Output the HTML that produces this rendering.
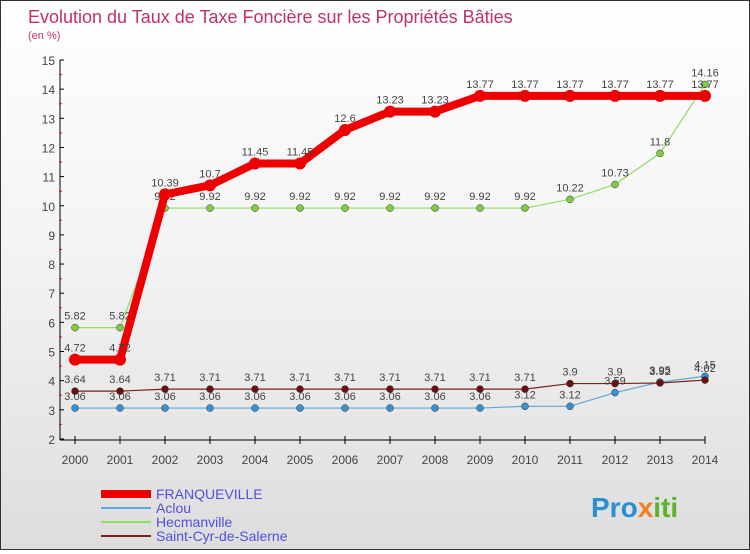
<!DOCTYPE html>
<html><head><meta charset="utf-8"><style>
body{margin:0;width:750px;height:550px;overflow:hidden;font-family:"Liberation Sans",sans-serif}
#wrap{position:relative;width:748px;height:548px;border:1px solid #333;background:linear-gradient(180deg,#fff 0%,#f2f2f2 50%,#ddd 100%)}
</style></head><body>
<div id="wrap">
<svg id="c" width="748" height="548">
<text x="27" y="22" font-size="18" fill="#c0306a">Evolution du Taux de Taxe Foncière sur les Propriétés Bâties</text>
<text x="27" y="38" font-size="11" fill="#c0306a">(en %)</text>
<g id="g"></g>
<text x="590" y="516" font-size="28" font-weight="bold" fill="#2a8fd0">Pro<tspan fill="#f08020">x</tspan><tspan fill="#60b030">iti</tspan></text>
</svg></div>
<script>
const years=[2000,2001,2002,2003,2004,2005,2006,2007,2008,2009,2010,2011,2012,2013,2014];
const yTicks=[2,3,4,5,6,7,8,9,10,11,12,13,14,15];
const franq=[4.72,4.72,10.39,10.7,11.45,11.45,12.6,13.23,13.23,13.77,13.77,13.77,13.77,13.77,13.77];
const aclou=[3.06,3.06,3.06,3.06,3.06,3.06,3.06,3.06,3.06,3.06,3.12,3.12,3.59,3.95,4.15];
const hecm=[5.82,5.82,9.92,9.92,9.92,9.92,9.92,9.92,9.92,9.92,9.92,10.22,10.73,11.8,14.16];
const stcyr=[3.64,3.64,3.71,3.71,3.71,3.71,3.71,3.71,3.71,3.71,3.71,3.9,3.9,3.92,4.02];
const seriesNames=["FRANQUEVILLE","Aclou","Hecmanville","Saint-Cyr-de-Salerne"];
const NS="http://www.w3.org/2000/svg",g=document.getElementById('g');
const X=i=>74+i*45, Y=v=>59+(15-v)*29.15;
function el(t,a,p){const e=document.createElementNS(NS,t);for(const k in a)e.setAttribute(k,a[k]);(p||g).appendChild(e);return e;}
let e=el('line',{x1:59,y1:59,x2:59,y2:439,stroke:'#000'});

e=el('line',{x1:59,y1:439,x2:704,y2:439,stroke:'#000'});

yTicks.forEach(v=>{el('line',{x1:59,y1:Y(v),x2:63,y2:Y(v),stroke:'#000'});
 if(v<15)el('line',{x1:58,y1:Y(v+0.5),x2:61,y2:Y(v+0.5),stroke:'#f00'});
 const t=el('text',{x:54,y:Y(v)+5,'text-anchor':'end','font-size':12,fill:'#444'});t.textContent=v;
 });
years.forEach((y,i)=>{el('line',{x1:X(i),y1:435,x2:X(i),y2:443,stroke:'#000'});
 const t=el('text',{x:X(i),y:463,'text-anchor':'middle','font-size':12,fill:'#444'});t.textContent=y;
 });
function series(d,col,w,r,fill,name,lab){
 const p=el('polyline',{points:d.map((v,i)=>X(i)+','+Y(v)).join(' '),fill:'none',stroke:col,'stroke-width':w});
 
 d.forEach((v,i)=>{const c=el('circle',{cx:X(i),cy:Y(v),r:r,fill:fill,stroke:w>3?'none':'#333','stroke-width':0.5});
  
  const t=el('text',{x:X(i),y:Y(v)-8,'text-anchor':'middle','font-size':11,fill:'#444'});t.textContent=v;
  });
}
series(aclou,'#5aa8d8',1.2,3.5,'#3a90d0','aclou');
series(stcyr,'#7a2020',1.2,3.5,'#6a1010','saint-cyr');
series(hecm,'#90dd60',1.2,3.5,'#80cc40','hecmanville');
series(franq,'#ee0000',8,6,'#ee0000','franqueville');
const cols=['#ee0000','#5aa8d8','#90dd60','#7a2020'],ws=[8,2,2,2];
seriesNames.forEach((n,i)=>{const yy=493+i*14;
 e=el('line',{x1:100,y1:yy,x2:150,y2:yy,stroke:cols[i],'stroke-width':ws[i]});
 
 const t=el('text',{x:155,y:yy+5,'font-size':14,fill:'#5050e0'});t.textContent=n;
 });
</script></body></html>
